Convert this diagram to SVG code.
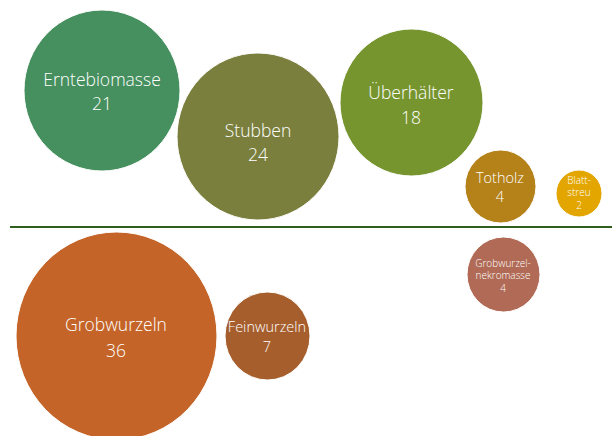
<svg xmlns="http://www.w3.org/2000/svg" width="612" height="436" viewBox="0 0 612 436">
<style>
.b{stroke:#ffffff;stroke-width:1}
text{font-family:"Open Sans","Noto Sans","Liberation Sans",sans-serif;fill:#ffffff;text-anchor:middle;font-weight:300}
.l{font-size:17.5px}
.m{font-size:14.5px}
.s{font-size:10px}
</style>
<rect width="612" height="436" fill="#ffffff"/>
<g id="connectors">
<line x1="10" y1="227" x2="612" y2="227" stroke="#2f5f1f" stroke-width="2"/>
</g>
<g id="erntebiomasse">
<ellipse class="b" cx="102" cy="90.5" rx="78" ry="80.5" fill="#468f5e"/>
<text class="l" x="102" y="86">Erntebiomasse</text>
<text class="l" x="102" y="110">21</text>
</g>
<g id="stubben">
<ellipse class="b" cx="258" cy="136.5" rx="81" ry="83.5" fill="#7a7f3d"/>
<text class="l" x="258" y="137">Stubben</text>
<text class="l" x="258" y="161">24</text>
</g>
<g id="ueberhaelter">
<ellipse class="b" cx="411.5" cy="102.5" rx="71.5" ry="73.5" fill="#77952f"/>
<text class="l" x="411" y="99">Überhälter</text>
<text class="l" x="411" y="124">18</text>
</g>
<g id="totholz">
<ellipse class="b" cx="500.5" cy="186.5" rx="35.5" ry="36.5" fill="#b5821a"/>
<text class="m" x="500" y="183">Totholz</text>
<text class="m" x="500" y="202">4</text>
</g>
<g id="blattstreu">
<ellipse class="b" cx="579" cy="193.5" rx="23" ry="23.5" fill="#e3a600"/>
<text class="s" x="579" y="183.5">Blatt-</text>
<text class="s" x="579" y="196">streu</text>
<text class="s" x="579" y="209">2</text>
</g>
<g id="grobwurzelnekromasse">
<ellipse class="b" cx="503.5" cy="274.5" rx="36.5" ry="37.5" fill="#b06a55"/>
<text class="s" x="503" y="266.5">Grobwurzel-</text>
<text class="s" x="503" y="279">nekromasse</text>
<text class="s" x="503" y="291.5">4</text>
</g>
<g id="grobwurzeln">
<ellipse class="b" cx="116.5" cy="336" rx="100.5" ry="104" fill="#c46428"/>
<text class="l" x="116" y="331">Grobwurzeln</text>
<text class="l" x="116" y="357">36</text>
</g>
<g id="feinwurzeln">
<ellipse class="b" cx="267.5" cy="336" rx="42.5" ry="44" fill="#a65e2c"/>
<text class="m" x="267" y="332">Feinwurzeln</text>
<text class="m" x="267" y="352">7</text>
</g>
</svg>
